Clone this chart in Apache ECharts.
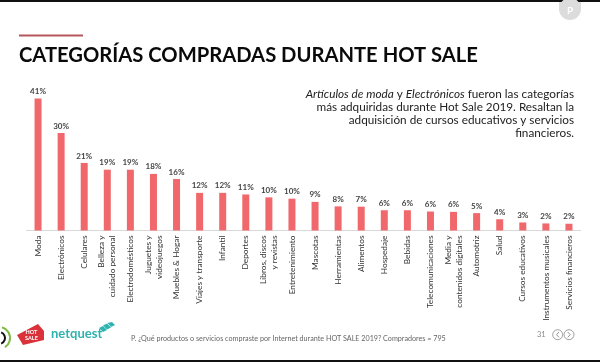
<!DOCTYPE html>
<html><head><meta charset="utf-8">
<style>html,body{margin:0;padding:0;background:#fff}#c{width:600px;height:362px;filter:blur(0.35px)}</style>
<script src="https://cdn.jsdelivr.net/npm/echarts@6/dist/echarts.min.js"></script>
</head><body><div id="c"></div>
<script>
const categories = ['Moda','Electrónicos','Celulares','Belleza y\ncuidado personal','Electrodomésticos','Juguetes y\nvideojuegos','Muebles & Hogar','Viajes y transporte','Infantil','Deportes','Libros, discos\ny revistas','Entretenimiento','Mascotas','Herramientas','Alimentos','Hospedaje','Bebidas','Telecomunicaciones','Media y\ncontenidos digitales','Automotriz','Salud','Cursos educativos','Instrumentos musicales','Servicios financieros'];
const values = [41,30.3,21,18.9,18.9,17.6,16,11.7,11.7,11.2,10.3,9.9,8.9,7.5,7.4,6.3,6.3,5.9,5.8,5.4,3.5,2.5,2.2,2.1];
const chart = echarts.init(document.getElementById('c'),null,{renderer:'canvas'});
const F='Lato, "Open Sans", sans-serif';
const arc=(r,color,w,a,b)=>({type:'arc',shape:{cx:-1,cy:338,r:r,startAngle:a,endAngle:b},style:{fill:'none',stroke:color,lineWidth:w}});
chart.setOption({
  animation:false,
  backgroundColor:'#fff',
  title:{text:'CATEGORÍAS COMPRADAS DURANTE HOT SALE',left:14,top:40.5,textStyle:{fontFamily:F,fontSize:20.2,fontWeight:'bold',color:'#0a0a0a'}},
  grid:{left:26.5,right:19.5,top:60,bottom:131.5},
  xAxis:{type:'category',data:categories,
    axisLine:{lineStyle:{color:'#d9d9d9',width:1}},axisTick:{show:false},
    axisLabel:{rotate:90,interval:0,fontFamily:F,fontSize:8.3,color:'#333',margin:5,lineHeight:11}},
  yAxis:{type:'value',min:0,max:53,show:false,splitLine:{show:false}},
  series:[{type:'bar',data:values,barWidth:7,itemStyle:{color:'#f0686c'},
    label:{show:true,position:'top',distance:3,fontFamily:F,fontSize:8,fontWeight:'bold',color:'#444',formatter:p=>Math.round(p.value)+'%'}}],
  graphic:[
    {type:'rect',shape:{x:0,y:0,width:600,height:2},style:{fill:'#111'}},
    {type:'rect',shape:{x:0,y:360,width:600,height:2},style:{fill:'#111'}},
    {type:'rect',shape:{x:19,y:34.5,width:64,height:2},style:{fill:'#b5565a'}},
    {type:'text',x:574,y:88,style:{align:'right',fontFamily:F,fontSize:11.75,lineHeight:13,fill:'#222',
      rich:{i:{fontFamily:F,fontSize:11.75,fontStyle:'italic',fill:'#222',lineHeight:13},n:{fontFamily:F,fontSize:11.75,fill:'#222',lineHeight:13}},
      text:'{i|Artículos de moda} {n|y} {i|Electrónicos} {n|fueron las categorías}\n{n|más adquiridas durante Hot Sale 2019. Resaltan la}\n{n|adquisición de cursos educativos y servicios}\n{n|financieros.}'}},
    {type:'text',x:131,y:335,style:{fontFamily:F,fontSize:7.2,fill:'#666',text:'P. ¿Qué productos o servicios compraste por Internet durante HOT SALE 2019? Compradores = 795'}},
    {type:'text',x:537,y:331,style:{fontFamily:F,fontSize:7.5,fill:'#888',text:'31'}},
    {type:'text',x:51,y:327,style:{fontFamily:F,fontSize:13,fontWeight:'bold',fill:'#2fb3b0',text:'netquest'}},
    {type:'polygon',shape:{points:[[99,328],[103,326],[107,330],[103,332]]},style:{fill:'#2fb3b0'}},
    {type:'polygon',shape:{points:[[103,325.5],[107,323.5],[111,327.5],[107,329.5]]},style:{fill:'#2fb3b0'}},
    {type:'polygon',shape:{points:[[107.5,323],[111,327],[115,325],[112,322]]},style:{fill:'#2fb3b0'}},
    {type:'polygon',shape:{points:[[17,335],[38,324],[44,331],[44,340],[23,345]]},style:{fill:'#d9323a'}},
    {type:'text',x:31.5,y:329,style:{align:'center',fontFamily:F,fontSize:5.5,fontWeight:'bold',fill:'#fff',lineHeight:6,text:'HOT\nSALE'}},
    arc(11,'#7dbb42',2,-1.3,1.0),
    arc(6,'#111',2,-1.2,1.2),
    {type:'circle',shape:{cx:570,cy:9,r:11},style:{fill:'#dcdcdc'}},
    {type:'rect',shape:{x:559,y:2,width:22,height:7},style:{fill:'#dcdcdc'}},
    {type:'text',x:570,y:6,style:{align:'center',fontFamily:F,fontSize:10,fontWeight:'bold',fill:'#fff',text:'P'}},
    {type:'circle',shape:{cx:557.7,cy:334.7,r:5},style:{fill:'#fff',stroke:'#888',lineWidth:0.8}},
    {type:'circle',shape:{cx:569,cy:334.7,r:5},style:{fill:'#fff',stroke:'#888',lineWidth:0.8}},
    {type:'polyline',shape:{points:[[559,332],[556.5,334.7],[559,337.4]]},style:{fill:'none',stroke:'#777',lineWidth:0.8}},
    {type:'polyline',shape:{points:[[567.7,332],[570.2,334.7],[567.7,337.4]]},style:{fill:'none',stroke:'#777',lineWidth:0.8}}
  ]
});
</script></body></html>
